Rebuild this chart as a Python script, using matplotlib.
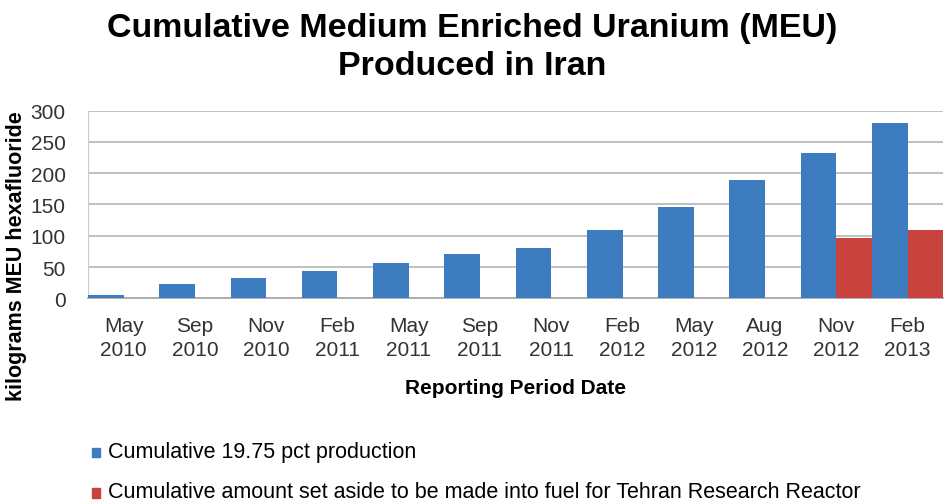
import numpy as np
import matplotlib.pyplot as plt

plt.rcParams['font.family'] = ['Liberation Sans', 'DejaVu Sans']

# data
periods = ["May\n2010", "Sep\n2010", "Nov\n2010", "Feb\n2011", "May\n2011", "Sep\n2011",
           "Nov\n2011", "Feb\n2012", "May\n2012", "Aug\n2012", "Nov\n2012", "Feb\n2013"]
production = [6, 23, 33, 43, 57, 71, 80, 110, 146, 189, 232, 280]
set_aside = [0, 0, 0, 0, 0, 0, 0, 0, 0, 0, 96, 110]

blue = "#3D7DBF"
red = "#C8423E"

fig = plt.figure(figsize=(9.44, 5.02), dpi=100)
ax = fig.add_axes([0.0932, 0.4038, 0.906, 0.3737])

x = np.arange(len(periods))
w = 0.5
ax.bar(x - w / 2, production, w, color=blue, zorder=3)
ax.bar(x + w / 2, set_aside, w, color=red, zorder=3)

ax.set_xlim(-0.5, len(periods) - 0.5)
ax.set_ylim(0, 300)
ax.set_yticks(range(0, 301, 50))
ax.set_xticks(x)
ax.set_xticklabels(periods, fontsize=15, color="#333333", linespacing=1.3)
ax.tick_params(axis='y', labelsize=15, colors="#333333", length=0, pad=16)
ax.tick_params(axis='x', length=0, pad=13)
ax.yaxis.grid(True, color="#BBBBBB", linewidth=1.3, zorder=0)
for s in ['top', 'right']:
    ax.spines[s].set_visible(False)
ax.spines['left'].set_color("#CCCCCC")
ax.spines['bottom'].set_color("#AAAAAA")
ax.spines['bottom'].set_linewidth(1.3)

ax.set_xlabel("Reporting Period Date", fontsize=15, fontweight='bold', labelpad=14)
ax.set_ylabel("kilograms MEU hexafluoride", fontsize=15.5, fontweight='bold')
ax.yaxis.set_label_coords(-0.071, 0.23)

fig.text(0.5, 0.975, "Cumulative Medium Enriched Uranium (MEU)\nProduced in Iran",
         ha='center', va='top', fontsize=24.5, fontweight='bold', linespacing=1.32)

# legend
fig.patches.append(plt.Rectangle((0.0975, 0.087), 0.0085, 0.019, transform=fig.transFigure,
                                 color=blue, figure=fig))
fig.text(0.114, 0.099, "Cumulative 19.75 pct production", fontsize=15.5, va='center')
fig.patches.append(plt.Rectangle((0.0975, 0.006), 0.0085, 0.019, transform=fig.transFigure,
                                 color=red, figure=fig))
fig.text(0.114, 0.018, "Cumulative amount set aside to be made into fuel for Tehran Research Reactor",
         fontsize=15.5, va='center')

fig.savefig("out.png", dpi=100)
